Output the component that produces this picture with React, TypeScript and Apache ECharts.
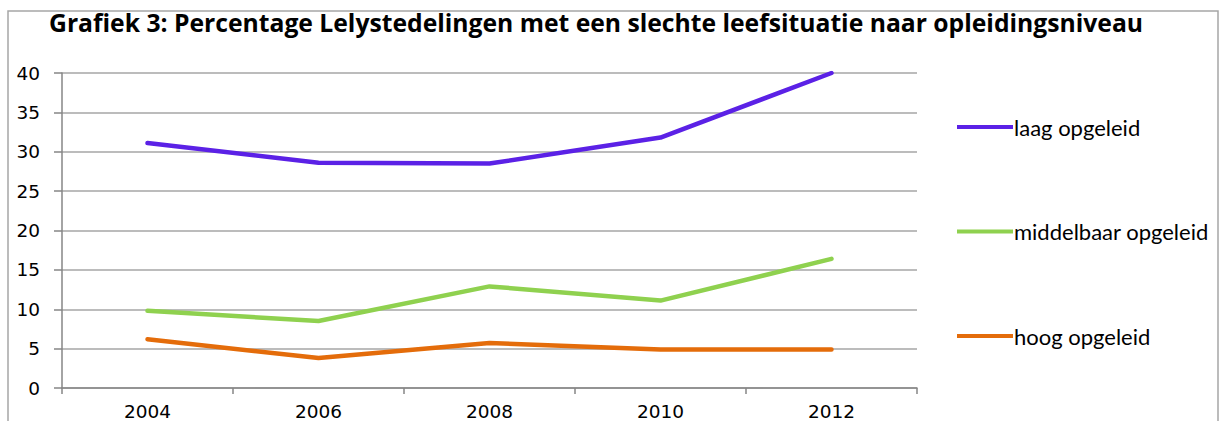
import React, { useEffect, useRef } from "react";
import * as echarts from "echarts";

const years = ["2004", "2006", "2008", "2010", "2012"];
const laag = [31.1, 28.6, 28.5, 31.8, 40.0];
const middelbaar = [9.8, 8.5, 12.9, 11.1, 16.4];
const hoog = [6.2, 3.8, 5.7, 4.9, 4.9];
const seriesNames = ["laag opgeleid", "middelbaar opgeleid", "hoog opgeleid"];
const seriesColors = ["#5B21E6", "#8FD14F", "#E46C0A"];
const titleText = "Grafiek 3: Percentage Lelystedelingen met een slechte leefsituatie naar opleidingsniveau";

export default function App() {
  const ref = useRef<HTMLDivElement>(null);
  useEffect(() => {
    document.body.style.margin = "0";
    const chart = echarts.init(ref.current!, undefined, { renderer: "svg" });
    const data = [laag, middelbaar, hoog];
    chart.setOption({
      animation: false,
      backgroundColor: "#ffffff",
      title: {
        text: titleText,
        left: 44,
        top: 5,
        textStyle: {
          fontFamily: "Open Sans",
          fontWeight: "bold",
          fontSize: 24.7,
          color: "#000000",
        },
      },
      graphic: [
        {
          type: "polyline",
          shape: { points: [[8, 421], [8, 11], [1218, 11], [1218, 421]] },
          style: { stroke: "#A6A6A6", lineWidth: 1.5, fill: "none" },
          silent: true,
        },
      ],
      legend: {
        orient: "vertical",
        left: 952,
        top: 111,
        itemWidth: 56,
        itemHeight: 18,
        itemGap: 82.5,
        textStyle: { fontFamily: "Lato", fontSize: 22, color: "#000000", padding: [0, 0, 0, -4] },
        data: seriesNames.map((n, i) => ({
          name: n,
          icon: "path://M0,7 L56,7 L56,11 L0,11 Z",
          itemStyle: { color: seriesColors[i] },
        })),
      },
      grid: { left: 62, right: 302, top: 73, bottom: 32, containLabel: false },
      xAxis: {
        type: "category",
        data: years,
        boundaryGap: true,
        axisLine: { lineStyle: { color: "#868686", width: 1.5 } },
        axisTick: { show: true, length: 6, lineStyle: { color: "#868686", width: 1.5 } },
        axisLabel: { fontFamily: "DejaVu Sans", fontSize: 18.5, color: "#000000", margin: 14 },
        splitLine: { show: false },
      },
      yAxis: {
        type: "value",
        min: 0,
        max: 40,
        interval: 5,
        axisLine: { show: true, lineStyle: { color: "#868686", width: 1.5 } },
        axisTick: { show: true, inside: false, length: 8, lineStyle: { color: "#868686", width: 1.5 } },
        axisLabel: { fontFamily: "DejaVu Sans", fontSize: 18.5, color: "#000000", margin: 22 },
        splitLine: { show: true, lineStyle: { color: "#A6A6A6", width: 1.5 } },
      },
      series: seriesNames.map((n, i) => ({
        name: n,
        type: "line",
        data: data[i],
        symbol: "none",
        lineStyle: { color: seriesColors[i], width: 4.5, cap: "round", join: "round" },
        itemStyle: { color: seriesColors[i] },
      })),
    });
    return () => chart.dispose();
  }, []);
  return <div ref={ref} style={{ width: 1219, height: 421 }} />;
}
